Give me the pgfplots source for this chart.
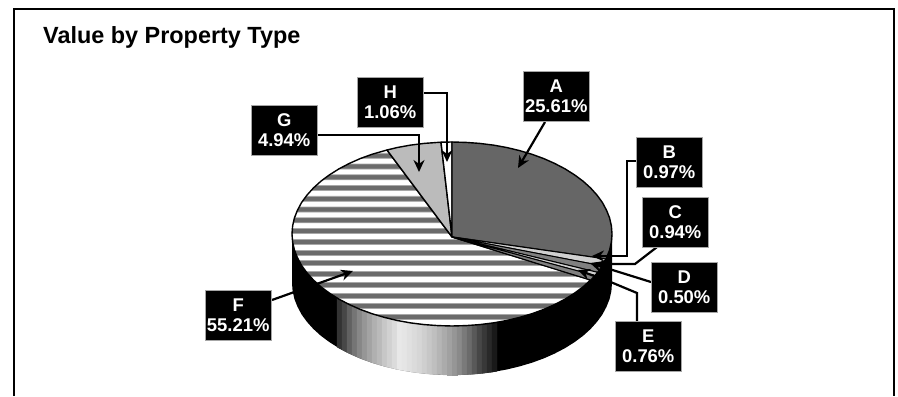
\documentclass[border=0pt]{standalone}
\usepackage{pgfplots}
\pgfplotsset{compat=1.18}
\usepackage{fontspec}
\setmainfont{Liberation Sans}
\usetikzlibrary{arrows.meta}
\definecolor{sliceA}{HTML}{666666}
\definecolor{sliceG}{HTML}{BBBBBB}
\definecolor{sliceL}{HTML}{D0D0D0}
\definecolor{sliceM}{HTML}{808080}
\definecolor{stripeD}{HTML}{6B6B6B}
\definecolor{stripeL}{HTML}{A8A8A8}
\tikzset{
  stripe/.style={fill=stripeD, draw=stripeL, line width=0.7bp},
  slice/.style={draw=black, line width=1.4bp, line join=round},
  arrowline/.style={draw=black, line width=2.2bp, line join=miter, -{Stealth[length=12bp,width=11bp]}},
  box/.style={fill=black, draw=black!35, line width=0.5bp, text=white, font=\fontsize{18.5}{19.5}\selectfont\bfseries, align=center, minimum width=66bp, minimum height=50bp, inner sep=0pt, anchor=north west},
}
\begin{document}
\begin{tikzpicture}
\begin{axis}[
  scale only axis, width=898bp, height=396bp,
  xmin=0, xmax=898, ymin=0, ymax=396, y dir=reverse,
  hide axis, clip=false,
]
% page background, keeps the whole 898x396 area in the picture
\addplot[fill=white, draw=none] coordinates {(0,0)(898,0)(898,396)(0,396)(0,0)};
% frame
\addplot[draw=black, line width=2bp] coordinates {(14,396)(14,9)(894,9)(894,396)};

% slice F: white base
\addplot[fill=white, draw=none] coordinates {(452,237)(590.6,280)(583.1,286.8)(574.6,293.1)(565.1,299.1)(554.8,304.5)(543.8,309.4)(532,313.7)(519.6,317.4)(506.7,320.5)(493.4,322.9)(479.8,324.6)(466,325.6)(452,326)(438,325.6)(424.2,324.6)(410.6,322.9)(397.3,320.5)(384.4,317.4)(372,313.7)(360.2,309.4)(349.2,304.5)(338.9,299.1)(329.4,293.1)(320.9,286.8)(313.4,280)(307,272.9)(301.6,265.5)(297.5,257.8)(294.4,250)(292.6,242)(292,234)(292.6,226)(294.4,218)(297.5,210.2)(301.6,202.5)(307,195.1)(313.4,188)(320.9,181.2)(329.4,174.9)(338.9,168.9)(349.2,163.5)(360.2,158.6)(372,154.3)(387,150)(452,237)};

% slice F: stripes
\addplot[stripe] coordinates {(375.3,153.25)(452,153.25)(452,158.25)(361.2,158.25)(375.3,153.25)};
\addplot[stripe] coordinates {(348.2,164)(452,164)(452,169)(338.8,169)(348.2,164)};
\addplot[stripe] coordinates {(329.6,174.75)(452,174.75)(452,179.75)(322.8,179.75)(329.6,174.75)};
\addplot[stripe] coordinates {(316,185.5)(452,185.5)(452,190.5)(311,190.5)(316,185.5)};
\addplot[stripe] coordinates {(306.1,196.25)(452,196.25)(452,201.25)(302.5,201.25)(306.1,196.25)};
\addplot[stripe] coordinates {(299,207)(452,207)(452,212)(296.6,212)(299,207)};
\addplot[stripe] coordinates {(294.5,217.75)(452,217.75)(452,222.75)(293.2,222.75)(294.5,217.75)};
\addplot[stripe] coordinates {(292.3,228.5)(452,228.5)(452,233.5)(292,233.5)(292.3,228.5)};
\addplot[stripe] coordinates {(292.3,239.25)(611.7,239.25)(611.7,244.25)(292.3,244.25)(292.3,239.25)};
\addplot[stripe] coordinates {(294.4,250)(609.6,250)(609.6,255)(294.4,255)(294.4,250)};
\addplot[stripe] coordinates {(299,260.75)(605,260.75)(605,265.75)(299,265.75)(299,260.75)};
\addplot[stripe] coordinates {(306,271.5)(598,271.5)(598,276.5)(306,276.5)(306,271.5)};
\addplot[stripe] coordinates {(315.7,282.25)(588.3,282.25)(588.3,287.25)(315.7,287.25)(315.7,282.25)};
\addplot[stripe] coordinates {(329.2,293)(574.8,293)(574.8,298)(329.2,298)(329.2,293)};
\addplot[stripe] coordinates {(347.7,303.75)(556.3,303.75)(556.3,308.75)(347.7,308.75)(347.7,303.75)};
\addplot[stripe] coordinates {(374.6,314.5)(529.4,314.5)(529.4,319.5)(374.6,319.5)(374.6,314.5)};

% side wall, black hull
\addplot[fill=black, draw=none] coordinates {(612,234)(611.4,242)(609.6,250)(606.5,257.8)(602.4,265.5)(597,272.9)(590.6,280)(583.1,286.8)(574.6,293.1)(565.1,299.1)(554.8,304.5)(543.8,309.4)(532,313.7)(519.6,317.4)(506.7,320.5)(493.4,322.9)(479.8,324.6)(466,325.6)(452,326)(438,325.6)(424.2,324.6)(410.6,322.9)(397.3,320.5)(384.4,317.4)(372,313.7)(360.2,309.4)(349.2,304.5)(338.9,299.1)(329.4,293.1)(320.9,286.8)(313.4,280)(307,272.9)(301.6,265.5)(297.5,257.8)(294.4,250)(292.6,242)(292,234)
(292,283)(292.6,291)(294.4,299)(297.5,306.8)(301.6,314.5)(307,321.9)(313.4,329)(320.9,335.8)(329.4,342.1)(338.9,348.1)(349.2,353.5)(360.2,358.4)(372,362.7)(384.4,366.4)(397.3,369.5)(410.6,371.9)(424.2,373.6)(438,374.6)(452,375)(466,374.6)(479.8,373.6)(493.4,371.9)(506.7,369.5)(519.6,366.4)(532,362.7)(543.8,358.4)(554.8,353.5)(565.1,348.1)(574.6,342.1)(583.1,335.8)(590.6,329)(597,321.9)(602.4,314.5)(606.5,306.8)(609.6,299)(611.4,291)(612,283)(612,234)};

% side wall, shaded bands
\addplot[fill=black!80,draw=black!80,line width=0.3bp] coordinates {(337,298)(342,300.8)(342,349.8)(337,347)(337,298)};
\addplot[fill=black!72,draw=black!72,line width=0.3bp] coordinates {(342,300.8)(347,303.4)(347,352.4)(342,349.8)(342,300.8)};
\addplot[fill=black!62,draw=black!62,line width=0.3bp] coordinates {(347,303.4)(352,305.8)(352,354.8)(347,352.4)(347,303.4)};
\addplot[fill=black!54,draw=black!54,line width=0.3bp] coordinates {(352,305.8)(357,308)(357,357)(352,354.8)(352,305.8)};
\addplot[fill=black!47,draw=black!47,line width=0.3bp] coordinates {(357,308)(362,310.1)(362,359.1)(357,357)(357,308)};
\addplot[fill=black!41,draw=black!41,line width=0.3bp] coordinates {(362,310.1)(367,311.9)(367,360.9)(362,359.1)(362,310.1)};
\addplot[fill=black!36,draw=black!36,line width=0.3bp] coordinates {(367,311.9)(372,313.7)(372,362.7)(367,360.9)(367,311.9)};
\addplot[fill=black!31,draw=black!31,line width=0.3bp] coordinates {(372,313.7)(377,315.3)(377,364.3)(372,362.7)(372,313.7)};
\addplot[fill=black!27,draw=black!27,line width=0.3bp] coordinates {(377,315.3)(382,316.7)(382,365.7)(377,364.3)(377,315.3)};
\addplot[fill=black!22,draw=black!22,line width=0.3bp] coordinates {(382,316.7)(387,318.1)(387,367.1)(382,365.7)(382,316.7)};
\addplot[fill=black!18,draw=black!18,line width=0.3bp] coordinates {(387,318.1)(392,319.3)(392,368.3)(387,367.1)(387,318.1)};
\addplot[fill=black!14,draw=black!14,line width=0.3bp] coordinates {(392,319.3)(397,320.4)(397,369.4)(392,368.3)(392,319.3)};
\addplot[fill=black!9,draw=black!9,line width=0.3bp] coordinates {(397,320.4)(402,321.4)(402,370.4)(397,369.4)(397,320.4)};
\addplot[fill=black!10,draw=black!10,line width=0.3bp] coordinates {(402,321.4)(407,322.3)(407,371.3)(402,370.4)(402,321.4)};
\addplot[fill=black!12,draw=black!12,line width=0.3bp] coordinates {(407,322.3)(412,323.1)(412,372.1)(407,371.3)(407,322.3)};
\addplot[fill=black!14,draw=black!14,line width=0.3bp] coordinates {(412,323.1)(417,323.8)(417,372.8)(412,372.1)(412,323.1)};
\addplot[fill=black!16,draw=black!16,line width=0.3bp] coordinates {(417,323.8)(422,324.4)(422,373.4)(417,372.8)(417,323.8)};
\addplot[fill=black!19,draw=black!19,line width=0.3bp] coordinates {(422,324.4)(427,324.9)(427,373.9)(422,373.4)(422,324.4)};
\addplot[fill=black!22,draw=black!22,line width=0.3bp] coordinates {(427,324.9)(432,325.3)(432,374.3)(427,373.9)(427,324.9)};
\addplot[fill=black!25,draw=black!25,line width=0.3bp] coordinates {(432,325.3)(437,325.6)(437,374.6)(432,374.3)(432,325.3)};
\addplot[fill=black!29,draw=black!29,line width=0.3bp] coordinates {(437,325.6)(442,325.8)(442,374.8)(437,374.6)(437,325.6)};
\addplot[fill=black!33,draw=black!33,line width=0.3bp] coordinates {(442,325.8)(447,326)(447,375)(442,374.8)(442,325.8)};
\addplot[fill=black!37,draw=black!37,line width=0.3bp] coordinates {(447,326)(452,326)(452,375)(447,375)(447,326)};
\addplot[fill=black!41,draw=black!41,line width=0.3bp] coordinates {(452,326)(457,326)(457,375)(452,375)(452,326)};
\addplot[fill=black!46,draw=black!46,line width=0.3bp] coordinates {(457,326)(462,325.8)(462,374.8)(457,375)(457,326)};
\addplot[fill=black!52,draw=black!52,line width=0.3bp] coordinates {(462,325.8)(467,325.6)(467,374.6)(462,374.8)(462,325.8)};
\addplot[fill=black!58,draw=black!58,line width=0.3bp] coordinates {(467,325.6)(472,325.3)(472,374.3)(467,374.6)(467,325.6)};
\addplot[fill=black!65,draw=black!65,line width=0.3bp] coordinates {(472,325.3)(477,324.9)(477,373.9)(472,374.3)(472,325.3)};
\addplot[fill=black!72,draw=black!72,line width=0.3bp] coordinates {(477,324.9)(482,324.4)(482,373.4)(477,373.9)(477,324.9)};
\addplot[fill=black!78,draw=black!78,line width=0.3bp] coordinates {(482,324.4)(487,323.8)(487,372.8)(482,373.4)(482,324.4)};
\addplot[fill=black!84,draw=black!84,line width=0.3bp] coordinates {(487,323.8)(492,323.1)(492,372.1)(487,372.8)(487,323.8)};
\addplot[fill=black!90,draw=black!90,line width=0.3bp] coordinates {(492,323.1)(497,322.3)(497,371.3)(492,372.1)(492,323.1)};

% outline of slice F
\addplot[slice] coordinates {(452,237)(590.6,280)(583.1,286.8)(574.6,293.1)(565.1,299.1)(554.8,304.5)(543.8,309.4)(532,313.7)(519.6,317.4)(506.7,320.5)(493.4,322.9)(479.8,324.6)(466,325.6)(452,326)(438,325.6)(424.2,324.6)(410.6,322.9)(397.3,320.5)(384.4,317.4)(372,313.7)(360.2,309.4)(349.2,304.5)(338.9,299.1)(329.4,293.1)(320.9,286.8)(313.4,280)(307,272.9)(301.6,265.5)(297.5,257.8)(294.4,250)(292.6,242)(292,234)(292.6,226)(294.4,218)(297.5,210.2)(301.6,202.5)(307,195.1)(313.4,188)(320.9,181.2)(329.4,174.9)(338.9,168.9)(349.2,163.5)(360.2,158.6)(372,154.3)(387,150)(452,237)};
% slices G, H
\addplot[slice, fill=sliceG] coordinates {(452,237)(387,150)(397.3,147.5)(410.6,145.1)(424.2,143.4)(438,142.4)(441,142.2)(452,237)};
\addplot[slice, fill=white] coordinates {(452,237)(441,142.2)(452,142)(452,237)};
% slice A
\addplot[slice, fill=sliceA] coordinates {(452,237)(452,142)(466,142.4)(479.8,143.4)(493.4,145.1)(506.7,147.5)(519.6,150.6)(532,154.3)(543.8,158.6)(554.8,163.5)(565.1,168.9)(574.6,174.9)(583.1,181.2)(590.6,188)(597,195.1)(602.4,202.5)(606.5,210.2)(609.6,218)(611.4,226)(612,234)(611.4,242)(609.6,250)(606,259)(452,237)};
% slices B, C, D, E
\addplot[slice, fill=sliceL, line width=1bp] coordinates {(452,237)(606,259)(602,265.8)(452,237)};
\addplot[slice, fill=sliceM, line width=1bp] coordinates {(452,237)(602,265.8)(597.5,272.3)(452,237)};
\addplot[slice, fill=sliceL, line width=1bp] coordinates {(452,237)(597.5,272.3)(594.8,275.5)(452,237)};
\addplot[slice, fill=sliceM, line width=1bp] coordinates {(452,237)(594.8,275.5)(590.6,280)(452,237)};

% leader lines
\addplot[arrowline] coordinates {(545,122)(518,168)};
\addplot[arrowline] coordinates {(636,161)(627,161)(627,256)(592,256)};
\addplot[arrowline] coordinates {(657,247)(635,264)(596,264)};
\addplot[arrowline] coordinates {(651,282)(590,263)};
\addplot[arrowline] coordinates {(637,321)(637,293)(613,283)(578,270)};
\addplot[arrowline] coordinates {(272,300)(353,271)};
\addplot[arrowline] coordinates {(317,135)(419,135)(419,172)};
\addplot[arrowline] coordinates {(423,93)(447,93)(447,162)};

% labels
\node[box] at (axis cs:523,71) {A\\25.61\%};
\node[box] at (axis cs:636,137) {B\\0.97\%};
\node[box] at (axis cs:642,197) {C\\0.94\%};
\node[box] at (axis cs:651,262) {D\\0.50\%};
\node[box] at (axis cs:615,321) {E\\0.76\%};
\node[box] at (axis cs:205,290) {F\\55.21\%};
\node[box] at (axis cs:251,105) {G\\4.94\%};
\node[box] at (axis cs:357,77) {H\\1.06\%};
\node[anchor=west, inner sep=0pt, font=\fontsize{23.5}{26}\selectfont\bfseries] at (axis cs:43,37) {Value by Property Type};
\end{axis}
\end{tikzpicture}
\end{document}
